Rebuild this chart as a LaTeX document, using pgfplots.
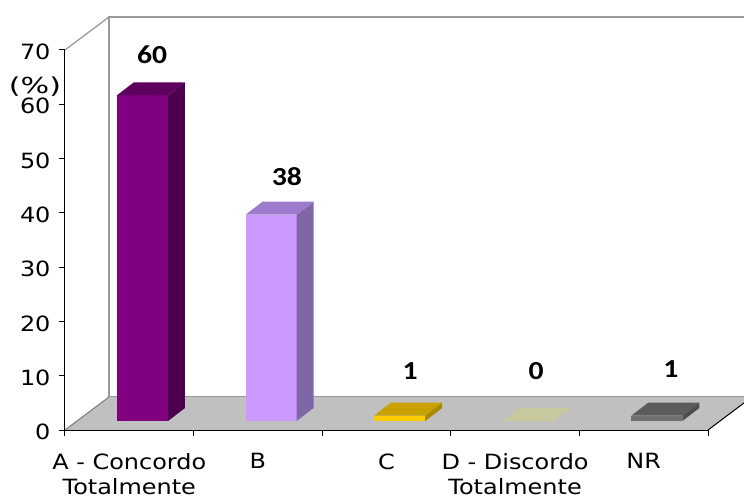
\documentclass[border=0pt]{standalone}
\usepackage{pgfplots}
\pgfplotsset{compat=1.18}
\usepackage{fontspec}
\setmainfont{DejaVu Sans}[FakeStretch=1.14]
\newfontfamily\lblfont{Carlito}[FakeStretch=1.14]
\definecolor{aF}{HTML}{800080}\definecolor{aS}{HTML}{4D004D}\definecolor{aT}{HTML}{5E005E}
\definecolor{bF}{HTML}{CC99FF}\definecolor{bS}{HTML}{8066A8}\definecolor{bT}{HTML}{9C7ACC}
\definecolor{cF}{HTML}{FFCC00}\definecolor{cS}{HTML}{A88800}\definecolor{cT}{HTML}{C9A200}
\definecolor{dF}{HTML}{FFFF99}\definecolor{dS}{HTML}{A8A870}\definecolor{dT}{HTML}{C8C89E}
\definecolor{nF}{HTML}{707070}\definecolor{nS}{HTML}{4D4D4D}\definecolor{nT}{HTML}{5C5C5C}
\definecolor{floorgray}{HTML}{C0C0C0}
\definecolor{wallgray}{HTML}{9A9A9A}
\newcommand{\threedbar}[5]{%
 \pgfmathsetmacro{\bxL}{#1+0.404}%
 \pgfmathsetmacro{\bxR}{#1+0.801}%
 \pgfmathsetmacro{\bxLd}{\bxL+0.132}%
 \pgfmathsetmacro{\bxRd}{\bxR+0.132}%
 \pgfmathsetmacro{\bxB}{1.658}%
 \pgfmathsetmacro{\bxBd}{1.658+2.395}%
 \pgfmathsetmacro{\bxT}{1.658+#2}%
 \pgfmathsetmacro{\bxTd}{1.658+#2+2.395}%
 \addplot[fill=#3,draw=none] coordinates {(\bxL,\bxB) (\bxR,\bxB) (\bxR,\bxT) (\bxL,\bxT)} --cycle;
 \addplot[fill=#4,draw=none] coordinates {(\bxR,\bxB) (\bxRd,\bxBd) (\bxRd,\bxTd) (\bxR,\bxT)} --cycle;
 \addplot[fill=#5,draw=none] coordinates {(\bxL,\bxT) (\bxR,\bxT) (\bxRd,\bxTd) (\bxLd,\bxTd)} --cycle;
}
\begin{document}
\begin{tikzpicture}
\begin{axis}[
  at={(0,0)}, anchor=south west,
  x=128.6pt, y=5.42857pt,
  xmin=0, xmax=5, ymin=0, ymax=70,
  clip=false,
  axis on top=true,
  axis x line*=bottom, axis y line*=left,
  axis line style={black, line width=1pt},
  tick align=outside,
  major tick length=6pt,
  ytick={0,10,...,70},
  xtick={0.5,1.5,2.5,3.5,4.5},
  xticklabels={{A - Concordo\\Totalmente},{B},{C},{D - Discordo\\Totalmente},{NR}},
  major x tick style={draw=none},
  minor xtick={0,1,2,3,4,5},
  minor tick length=6pt,
  minor x tick style={black, line width=1pt},
  ytick style={black, line width=1pt},
  /pgf/number format/assume math mode=true,
  tick label style={font=\fontsize{21}{25}\selectfont, text=black},
  yticklabel style={xshift=-5pt, yshift=-2pt},
  xticklabel style={align=center, yshift=-14pt},
]
% floor
\addplot[fill=floorgray, draw=none] coordinates {(0,0) (5,0) (5.342,6.08) (0.342,6.08)} --cycle;
\draw[wallgray!80!black, line width=1pt] (axis cs:0,0) -- (axis cs:0.342,6.08);
\draw[wallgray, line width=1pt] (axis cs:0.342,6.08) -- (axis cs:5.5,6.08);
\draw[black, line width=1pt] (axis cs:5,0) -- (axis cs:5.342,6.08);
% back walls
\draw[wallgray, line width=1.3pt] (axis cs:0.342,6.08) -- (axis cs:0.342,76.08) -- (axis cs:5.5,76.08);
\draw[wallgray, line width=1.3pt] (axis cs:0,70) -- (axis cs:0.342,76.08);
% bars
\threedbar{0}{60}{aF}{aS}{aT}
\threedbar{1}{38}{bF}{bS}{bT}
\threedbar{2}{1}{cF}{cS}{cT}
\threedbar{3}{0}{dF}{dS}{dT}
\threedbar{4}{1}{nF}{nS}{nT}
% value labels
\addplot[draw=none, mark=none, nodes near coords, point meta=explicit symbolic,
  every node near coord/.append style={anchor=center, font=\lblfont\fontsize{26}{28}\selectfont\bfseries, text=black}]
  coordinates {(0.677,69.1)[60] (1.726,46.6)[38] (2.683,10.9)[1] (3.663,10.9)[0] (4.712,11.2)[1]};
\node[font=\fontsize{22}{24}\selectfont, xscale=1.2] at (axis cs:-0.233,63.2) {(\%)};
\end{axis}
\pgfresetboundingbox
\path (-65pt,-71pt) rectangle (679pt,430pt);
\end{tikzpicture}
\end{document}
